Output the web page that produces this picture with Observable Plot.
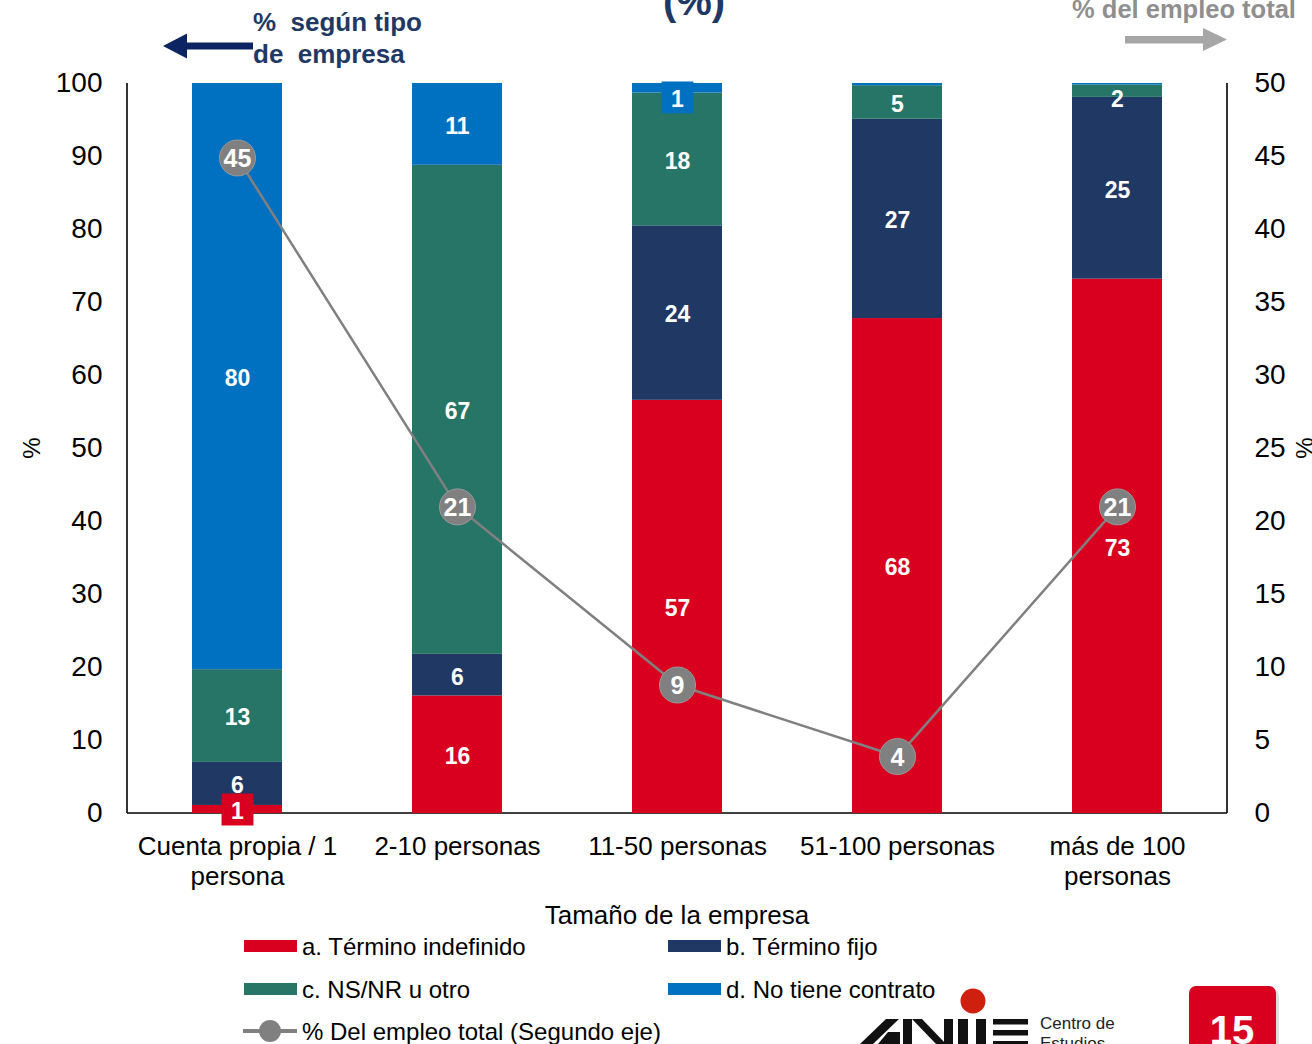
<!DOCTYPE html>
<html>
<head>
<meta charset="utf-8">
<script src="https://cdn.jsdelivr.net/npm/d3@7"></script>
<script src="https://cdn.jsdelivr.net/npm/@observablehq/plot@0.6"></script>
<style>
  html, body { margin: 0; padding: 0; background: #ffffff; }
  body { width: 1312px; height: 1044px; overflow: hidden; }
</style>
</head>
<body>
<div id="chart"></div>
<script>
// ---------- data ----------
const categories = ["Cuenta propia / 1 persona", "2-10 personas", "11-50 personas", "51-100 personas", "más de 100 personas"];
const xTickLabels = ["Cuenta propia / 1\npersona", "2-10 personas", "11-50 personas", "51-100 personas", "más de 100\npersonas"];
const seriesNames = ["a. Término indefinido", "b. Término fijo", "c. NS/NR u otro", "d. No tiene contrato"];
const seriesColors = ["#D9001F", "#203864", "#277566", "#0070C0"];
const indefinido  = [1.1, 16.1, 56.6, 67.8, 73.2];
const fijo        = [5.9, 5.7, 23.9, 27.3, 24.9];
const nsnrOtro    = [12.7, 67.0, 18.2, 4.6, 1.7];
const sinContrato = [80.3, 11.2, 1.3, 0.3, 0.2];
const empleoTotal = [44.9, 21.0, 8.8, 3.9, 21.0];
const empleoLabel = "% Del empleo total (Segundo eje)";
const leftTicks = [0, 10, 20, 30, 40, 50, 60, 70, 80, 90, 100];
const rightTicks = [0, 5, 10, 15, 20, 25, 30, 35, 40, 45, 50];

// ---------- tables ----------
const seriesValues = [indefinido, fijo, nsnrOtro, sinContrato];
const rows = [];
categories.forEach((cat, i) => {
  let cum = 0;
  seriesValues.forEach((vals, s) => {
    const v = vals[i];
    rows.push({cat, series: seriesNames[s], value: v, y1: cum, y2: cum + v});
    cum += v;
  });
});
const empRows = categories.map((cat, i) => ({cat, v: empleoTotal[i]}));
const labelRows = rows.filter(d => Math.round(d.value) >= 1);
const boxRows = labelRows.filter(d => Math.round(d.value) === 1);
const labelY = d => Math.min((d.y1 + d.y2) / 2, 98.1);

const FONT = "'Liberation Sans', Arial, Helvetica, sans-serif";

const plot = Plot.plot({
  width: 1312,
  height: 1044,
  marginLeft: 127,
  marginRight: 85,
  marginTop: 83,
  marginBottom: 231,
  style: {fontFamily: FONT, fontSize: "28px", color: "#000", background: "transparent"},
  x: {domain: categories, paddingInner: 0.59, paddingOuter: 0.295},
  y: {domain: [0, 100]},
  color: {domain: seriesNames, range: seriesColors},
  marks: [
    Plot.axisY({anchor: "left", ticks: leftTicks, tickSize: 0, tickPadding: 25, label: null, fontSize: 28}),
    Plot.axisY({anchor: "right", ticks: rightTicks.map(t => t * 2), tickFormat: d => d / 2, tickSize: 0, tickPadding: 27, label: null, fontSize: 28}),
    Plot.axisX({anchor: "bottom", tickSize: 0, tickPadding: 20, label: null, fontSize: 26, lineHeight: 1.15,
      tickFormat: d => xTickLabels[categories.indexOf(d)]}),
    Plot.barY(rows, {x: "cat", y1: "y1", y2: "y2", fill: "series"}),
    Plot.dot(boxRows, {x: "cat", y: labelY, fill: "series", symbol: "square", r: 18}),
    Plot.text(labelRows, {x: "cat", y: labelY, text: d => String(Math.round(d.value)), fill: "white", fontWeight: "bold", fontSize: 23, dy: 2}),
    Plot.line(empRows, {x: "cat", y: d => d.v * 2, stroke: "#808080", strokeWidth: 2.5}),
    Plot.dot(empRows, {x: "cat", y: d => d.v * 2, r: 18, fill: "#808080", stroke: "#9a9a9a", strokeWidth: 1}),
    Plot.text(empRows, {x: "cat", y: d => d.v * 2, text: d => String(Math.round(d.v)), fill: "white", fontWeight: "bold", fontSize: 25, dy: 1})
  ]
});
document.getElementById("chart").appendChild(plot);

// ---------- extra drawing (axis lines, titles, legend, decorations) ----------
const svg = d3.select(plot);
const xs = plot.scale("x"), ys = plot.scale("y");
const x0 = xs.range[0], x1 = xs.range[1];
const yb = ys.apply(0), yt = ys.apply(100);

const axes = svg.insert("g", ":first-child").attr("stroke", "#000").attr("stroke-width", 1.6);
axes.append("line").attr("x1", x0).attr("x2", x0).attr("y1", yt).attr("y2", yb);
axes.append("line").attr("x1", x1).attr("x2", x1).attr("y1", yt).attr("y2", yb);
axes.append("line").attr("x1", x0).attr("x2", x1).attr("y1", yb).attr("y2", yb);
const styleEl = plot.querySelector("style");
if (styleEl) plot.insertBefore(styleEl, plot.firstChild);

const g = svg.append("g").attr("font-family", FONT).attr("text-anchor", "start").attr("fill", "#000");

// axis titles
g.append("text").attr("transform", "translate(40,448) rotate(-90)").attr("text-anchor", "middle")
  .attr("font-size", 24).text("%");
g.append("text").attr("transform", "translate(1313,448) rotate(-90)").attr("text-anchor", "middle")
  .attr("font-size", 24).text("%");
g.append("text").attr("x", (x0 + x1) / 2).attr("y", 924).attr("text-anchor", "middle")
  .attr("font-size", 26).text("Tamaño de la empresa");

// top title (cut, as in the reference)
g.append("text").attr("x", 694).attr("y", 15).attr("text-anchor", "middle")
  .attr("font-size", 40).attr("font-weight", "bold").attr("fill", "#1F3864").text("(%)");

// left annotation
g.append("text").attr("x", 253).attr("y", 31).attr("font-size", 26).attr("font-weight", "bold")
  .attr("fill", "#1F3864").style("white-space", "pre").text("%  según tipo");
g.append("text").attr("x", 253).attr("y", 63).attr("font-size", 26).attr("font-weight", "bold")
  .attr("fill", "#1F3864").style("white-space", "pre").text("de  empresa");
g.append("rect").attr("x", 184).attr("y", 42.5).attr("width", 69).attr("height", 7).attr("fill", "#0C2461");
g.append("path").attr("d", "M163,46 L187,33.5 L187,58.5 Z").attr("fill", "#0C2461");

// right annotation
g.append("text").attr("x", 1184).attr("y", 18).attr("text-anchor", "middle").attr("font-size", 25.5)
  .attr("font-weight", "bold").attr("fill", "#8f8f8f").text("% del empleo total");
g.append("rect").attr("x", 1125).attr("y", 36).attr("width", 80).attr("height", 7.5).attr("fill", "#a6a6a6");
g.append("path").attr("d", "M1227,39.5 L1203,28 L1203,51 Z").attr("fill", "#a6a6a6");

// legend
const legendItems = [
  {name: seriesNames[0], color: seriesColors[0], x: 244, y: 946},
  {name: seriesNames[1], color: seriesColors[1], x: 668, y: 946},
  {name: seriesNames[2], color: seriesColors[2], x: 244, y: 989},
  {name: seriesNames[3], color: seriesColors[3], x: 668, y: 989}
];
legendItems.forEach(it => {
  g.append("rect").attr("x", it.x).attr("y", it.y - 6).attr("width", 53).attr("height", 12).attr("fill", it.color);
  g.append("text").attr("x", it.x + 58).attr("y", it.y + 9).attr("font-size", 24).attr("text-anchor", "start").text(it.name);
});
g.append("line").attr("x1", 243).attr("x2", 297).attr("y1", 1031).attr("y2", 1031)
  .attr("stroke", "#808080").attr("stroke-width", 4);
g.append("circle").attr("cx", 270).attr("cy", 1031).attr("r", 11).attr("fill", "#808080");
g.append("text").attr("x", 302).attr("y", 1040).attr("font-size", 24).attr("text-anchor", "start").text(empleoLabel);

// logo (approximation)
g.append("circle").attr("cx", 973).attr("cy", 1001).attr("r", 12.5).attr("fill", "#CF1F0E");
const logo = g.append("g").attr("fill", "#111");
logo.append("path").attr("d", "M860,1044 L886,1019 L899,1019 L873,1044 Z");
logo.append("path").attr("d", "M888,1032 L900,1032 L900,1044 L878,1044 Z");
logo.append("rect").attr("x", 903).attr("y", 1019).attr("width", 9).attr("height", 25);
logo.append("path").attr("d", "M912,1019 L922,1019 L946,1044 L936,1044 Z");
logo.append("rect").attr("x", 944).attr("y", 1019).attr("width", 9).attr("height", 25);
logo.append("rect").attr("x", 958).attr("y", 1019).attr("width", 10).attr("height", 25);
logo.append("rect").attr("x", 976).attr("y", 1019).attr("width", 10).attr("height", 25);
logo.append("rect").attr("x", 993).attr("y", 1019).attr("width", 35).attr("height", 5.5);
logo.append("rect").attr("x", 993).attr("y", 1030).attr("width", 35).attr("height", 5.5);
logo.append("rect").attr("x", 993).attr("y", 1041).attr("width", 35).attr("height", 5.5);
g.append("text").attr("x", 1040).attr("y", 1029).attr("font-size", 17).attr("fill", "#222").attr("text-anchor", "start").text("Centro de");
g.append("text").attr("x", 1040).attr("y", 1049).attr("font-size", 17).attr("fill", "#222").attr("text-anchor", "start").text("Estudios");

// page number
g.append("rect").attr("x", 1192).attr("y", 989).attr("width", 87).attr("height", 70).attr("rx", 7).attr("fill", "#c8c8c8").attr("opacity", 0.6);
g.append("rect").attr("x", 1189).attr("y", 986).attr("width", 87).attr("height", 70).attr("rx", 7).attr("fill", "#D9001F");
g.append("text").attr("x", 1232).attr("y", 1044).attr("text-anchor", "middle").attr("font-size", 40)
  .attr("font-weight", "bold").attr("fill", "white").text("15");
</script>
</body>
</html>
